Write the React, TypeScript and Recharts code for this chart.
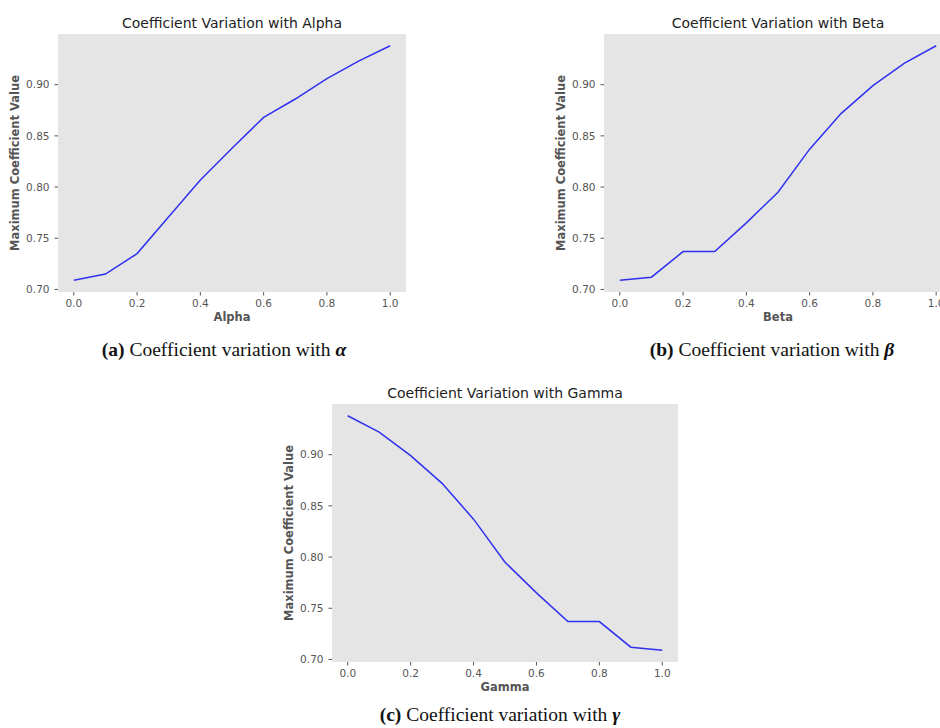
import React from 'react';
import { LineChart, Line, XAxis, YAxis, CartesianGrid, Label } from 'recharts';

const paramValues = [0, 0.1, 0.2, 0.3, 0.4, 0.5, 0.6, 0.7, 0.8, 0.9, 1.0];
const alphaValues = [0.709, 0.715, 0.735, 0.771, 0.807, 0.838, 0.868, 0.886, 0.906, 0.923, 0.938];
const betaValues = [0.709, 0.712, 0.737, 0.737, 0.765, 0.795, 0.837, 0.872, 0.899, 0.921, 0.938];
const gammaValues = [0.938, 0.922, 0.899, 0.872, 0.837, 0.795, 0.765, 0.737, 0.737, 0.712, 0.709];
const xTicks = [0, 0.2, 0.4, 0.6, 0.8, 1.0];
const yTicks = [0.7, 0.75, 0.8, 0.85, 0.9];

const SANS = '"DejaVu Sans", sans-serif';
const SERIF = '"Liberation Serif", "DejaVu Serif", serif';

const Y_AXIS_W = 60;
const X_AXIS_H = 42;

type PanelProps = {
  plotLeft: number;
  plotTop: number;
  plotW: number;
  plotH: number;
  values: number[];
  xLabel: string;
  title: string;
  captionTag: string;
  captionSymbol: string;
  captionX: number;
  captionY: number;
};

function Panel(p: PanelProps) {
  const data = paramValues.map((x, i) => ({ x, y: p.values[i] }));
  const tickStyle = { fontFamily: SANS, fontSize: 10.5, fill: '#555555' };
  return (
    <>
      <div
        style={{
          position: 'absolute',
          left: p.plotLeft + p.plotW / 2,
          top: p.plotTop - 11,
          transform: 'translate(-50%, -50%)',
          fontFamily: SANS,
          fontSize: 14,
          color: '#222',
          whiteSpace: 'nowrap',
          lineHeight: 1,
        }}
      >
        {p.title}
      </div>
      <div style={{ position: 'absolute', left: p.plotLeft - Y_AXIS_W, top: p.plotTop }}>
        <LineChart
          width={Y_AXIS_W + p.plotW}
          height={p.plotH + X_AXIS_H}
          data={data}
          margin={{ top: 0, right: 0, bottom: 0, left: 0 }}
        >
          <CartesianGrid fill="#e5e5e5" horizontal={false} vertical={false} stroke="none" />
          <XAxis
            dataKey="x"
            type="number"
            domain={[-0.05, 1.05]}
            ticks={xTicks}
            tickFormatter={(v: number) => v.toFixed(1)}
            axisLine={false}
            tickLine={{ stroke: '#555555' }}
            tickSize={3.5}
            tickMargin={4}
            tick={tickStyle}
            height={X_AXIS_H}
            allowDataOverflow
          >
            <Label
              value={p.xLabel}
              position="insideTop"
              offset={21}
              style={{ fontFamily: SANS, fontSize: 11.5, fontWeight: 'bold', fill: '#555555' }}
            />
          </XAxis>
          <YAxis
            type="number"
            domain={[0.6975, 0.9495]}
            ticks={yTicks}
            tickFormatter={(v: number) => v.toFixed(2)}
            axisLine={false}
            tickLine={{ stroke: '#555555' }}
            tickSize={3.5}
            tickMargin={5}
            tick={tickStyle}
            width={Y_AXIS_W}
            allowDataOverflow
          >
            <Label
              value="Maximum Coefficient Value"
              position="insideLeft"
              angle={-90}
              offset={17}
              style={{ fontFamily: SANS, fontSize: 11.5, fontWeight: 'bold', fill: '#555555', textAnchor: 'middle' }}
            />
          </YAxis>
          <Line
            type="linear"
            dataKey="y"
            stroke="#3030f0"
            strokeWidth={1.5}
            dot={false}
            isAnimationActive={false}
          />
        </LineChart>
      </div>
      <div
        style={{
          position: 'absolute',
          left: p.captionX,
          top: p.captionY,
          transform: 'translate(-50%, -50%)',
          fontFamily: SERIF,
          fontSize: 19.5,
          color: '#111',
          whiteSpace: 'nowrap',
          lineHeight: 1,
        }}
      >
        <span style={{ fontWeight: 'bold' }}>{p.captionTag}</span> Coefficient variation with{' '}
        <span style={{ fontWeight: 'bold', fontStyle: 'italic' }}>{p.captionSymbol}</span>
      </div>
    </>
  );
}

export default function App() {
  return (
    <div
      style={{
        position: 'absolute',
        left: 0,
        top: 0,
        width: 940,
        height: 728,
        overflow: 'hidden',
        background: '#ffffff',
      }}
    >
      <Panel
        plotLeft={58}
        plotTop={34}
        plotW={348}
        plotH={258}
        values={alphaValues}
        xLabel="Alpha"
        title="Coefficient Variation with Alpha"
        captionTag="(a)"
        captionSymbol="α"
        captionX={224}
        captionY={350}
      />
      <Panel
        plotLeft={604}
        plotTop={34}
        plotW={348}
        plotH={258}
        values={betaValues}
        xLabel="Beta"
        title="Coefficient Variation with Beta"
        captionTag="(b)"
        captionSymbol="β"
        captionX={772}
        captionY={350}
      />
      <Panel
        plotLeft={332}
        plotTop={404}
        plotW={346}
        plotH={258}
        values={gammaValues}
        xLabel="Gamma"
        title="Coefficient Variation with Gamma"
        captionTag="(c)"
        captionSymbol="γ"
        captionX={500}
        captionY={715}
      />
    </div>
  );
}
